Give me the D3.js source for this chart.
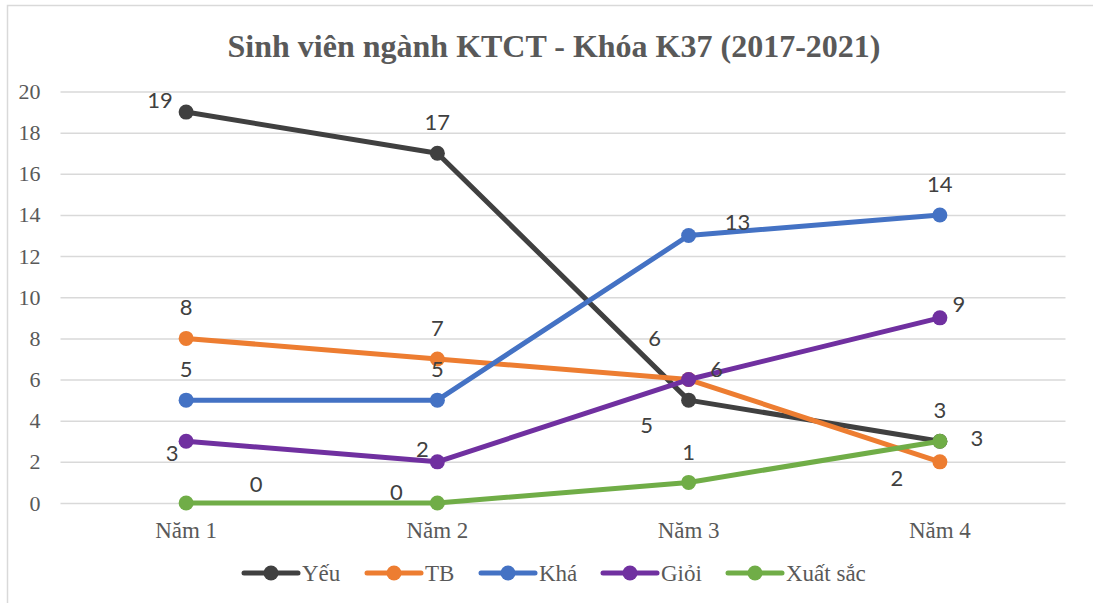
<!DOCTYPE html>
<html>
<head>
<meta charset="utf-8">
<script src="https://cdn.jsdelivr.net/npm/d3@7"></script>
<style>
  html, body { margin: 0; padding: 0; background: #fff; }
  svg { display: block; }
</style>
</head>
<body>
<svg id="chart" width="1093" height="603"></svg>
<script>
// ---- data ----
const categories = ["Năm 1", "Năm 2", "Năm 3", "Năm 4"];
const seriesNames = ["Yếu", "TB", "Khá", "Giỏi", "Xuất sắc"];
const yeu     = [19, 17, 5, 3];
const tb      = [8, 7, 6, 2];
const kha     = [5, 5, 13, 14];
const gioi    = [3, 2, 6, 9];
const xuatsac = [0, 0, 1, 3];
const yTicks  = [0, 2, 4, 6, 8, 10, 12, 14, 16, 18, 20];
const title   = "Sinh viên ngành KTCT - Khóa K37 (2017-2021)";

// ---- style / layout ----
const colors = ["#404040", "#ED7D31", "#4472C4", "#7030A0", "#70AD47"];
// manual data-label offsets (px) relative to each point
const labelOffsets = [
  [[-26, -12], [0, -31], [-42, 25], [0, -31]],
  [[0, -31], [0, -31], [-34, -41], [-43, 16]],
  [[0, -31], [0, -31], [49, -13], [0, -31]],
  [[-14, 12], [-15, -13], [28, -10], [19, -14]],
  [[70, -19], [-41, -11], [0, -30], [37, -3]]
];
const serif = "'Liberation Serif', 'Times New Roman', serif";

const allSeries = [yeu, tb, kha, gioi, xuatsac];
const svg = d3.select("#chart");

// frame
svg.append("rect").attr("x", 7.5).attr("y", 5.5).attr("width", 1100).attr("height", 620)
  .attr("fill", "none").attr("stroke", "#d9d9d9").attr("stroke-width", 1.5);

const x = d3.scaleBand().domain(categories).range([60.5, 1065.5]);
const y = d3.scaleLinear().domain([0, 20]).range([503, 91.5]);
const cx = c => x(c) + x.bandwidth() / 2;

// title
svg.append("text").attr("x", 554).attr("y", 57).attr("text-anchor", "middle")
  .attr("font-family", serif)
  .attr("font-weight", "bold").attr("font-size", 32).attr("fill", "#595959")
  .text(title);

// gridlines + y axis
const yAxis = d3.axisLeft(y).tickValues(yTicks).tickSize(-(1065.5 - 60.5)).tickPadding(20);
const gy = svg.append("g").attr("transform", "translate(60.5,0)").call(yAxis);
gy.attr("font-family", serif);
gy.select(".domain").remove();
gy.selectAll(".tick line").attr("stroke", "#d9d9d9").attr("stroke-width", 1.5);
gy.selectAll(".tick text").attr("font-family", serif)
  .attr("font-size", 22).attr("fill", "#595959");

// x axis labels
const xAxis = d3.axisBottom(x).tickSize(0).tickPadding(19);
const gx = svg.append("g").attr("transform", "translate(0,503)").call(xAxis);
gx.attr("font-family", serif);
gx.select(".domain").remove();
gx.selectAll(".tick text").attr("font-family", serif)
  .attr("font-size", 23).attr("fill", "#595959");

// lines
const line = d3.line().x((d, i) => cx(categories[i])).y(d => y(d));
allSeries.forEach((vals, si) => {
  const g = svg.append("g");
  g.append("path").datum(vals).attr("d", line).attr("fill", "none")
    .attr("stroke", colors[si]).attr("stroke-width", 5).attr("stroke-linejoin", "round");
  g.selectAll("circle").data(vals).join("circle")
    .attr("cx", (d, i) => cx(categories[i])).attr("cy", d => y(d)).attr("r", 7.5)
    .attr("fill", colors[si]);
});
// labels
allSeries.forEach((vals, si) => {
  svg.append("g").selectAll("text").data(vals).join("text")
    .attr("x", (d, i) => cx(categories[i]) + labelOffsets[si][i][0])
    .attr("y", (d, i) => y(d) + labelOffsets[si][i][1])
    .attr("dy", "0.36em").attr("text-anchor", "middle")
    .attr("font-family", "Lato, 'Open Sans', sans-serif")
    .attr("font-size", 22).attr("fill", "#404040")
    .text(d => d);
});

// legend
const legendX = [244, 367, 481, 603, 728];
const lg = svg.append("g").attr("transform", "translate(0,573)");
seriesNames.forEach((name, i) => {
  const g = lg.append("g").attr("transform", `translate(${legendX[i]},0)`);
  g.append("line").attr("x1", 0).attr("x2", 54).attr("y1", 0).attr("y2", 0)
    .attr("stroke", colors[i]).attr("stroke-width", 5).attr("stroke-linecap", "round");
  g.append("circle").attr("cx", 27).attr("cy", 0).attr("r", 7.5).attr("fill", colors[i]);
  g.append("text").attr("x", 58).attr("y", 8).attr("font-family", serif)
    .attr("font-size", 23).attr("fill", "#595959").text(name);
});
</script>
</body>
</html>
